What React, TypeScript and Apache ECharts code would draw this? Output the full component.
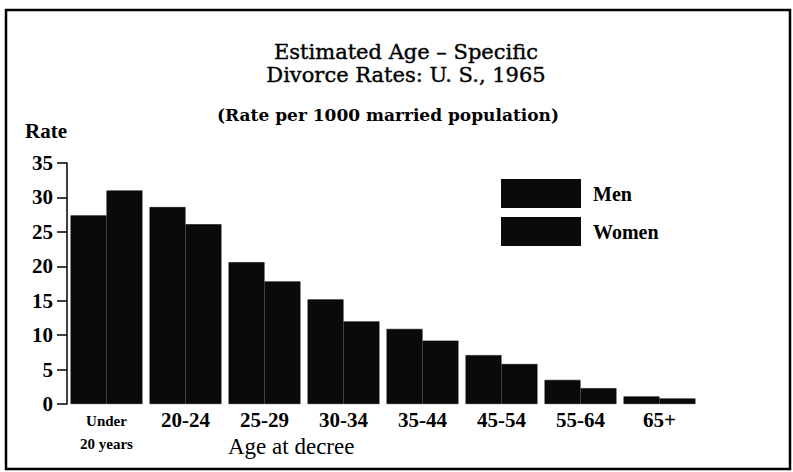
import React, { useEffect, useRef } from "react";
import * as echarts from "echarts";

const categories = ["Under\n20 years", "20-24", "25-29", "30-34", "35-44", "45-54", "55-64", "65+"];
const men = [27.4, 28.6, 20.6, 15.2, 10.9, 7.1, 3.5, 1.1];
const women = [31.0, 26.1, 17.8, 12.0, 9.2, 5.8, 2.3, 0.8];
const yTicks = [0, 5, 10, 15, 20, 25, 30, 35];

const FONT = "Liberation Serif";
const DFONT = "DejaVu Serif";
const BAR = "#0a0a0a";

export default function App() {
  const ref = useRef<HTMLDivElement>(null);
  useEffect(() => {
    if (!ref.current) return;
    const chart = echarts.init(ref.current, null, { renderer: "svg" });
    chart.setOption({
      animation: false,
      backgroundColor: "#fff",
      textStyle: { fontFamily: FONT, color: "#000" },
      title: [
        {
          text: "Estimated Age \u2013 Specific\nDivorce Rates: U. S., 1965",
          left: 406,
          top: 40,
          textAlign: "center",
          padding: 0,
          textStyle: {
            fontFamily: DFONT,
            fontSize: 21,
            fontWeight: "normal",
            lineHeight: 23,
            color: "#000",
            textBorderColor: "#000",
            textBorderWidth: 0.4,
          },
        },
        {
          text: "(Rate per 1000 married population)",
          left: 388,
          top: 106,
          textAlign: "center",
          padding: 0,
          textStyle: { fontFamily: DFONT, fontSize: 17, fontWeight: "bold", color: "#000" },
        },
      ],
      legend: {
        orient: "vertical",
        left: 501,
        top: 179,
        padding: 0,
        itemWidth: 78,
        itemHeight: 27,
        itemGap: 9,
        icon: "rect",
        data: ["Men", "Women"],
        textStyle: { fontFamily: FONT, fontSize: 20, fontWeight: "bold", color: "#000", padding: [0, 0, 0, 8] },
      },
      grid: { left: 67, right: 94, top: 163, bottom: 68 },
      xAxis: {
        type: "category",
        data: categories,
        axisLine: { show: false },
        axisTick: { show: false },
        axisLabel: {
          interval: 0,
          margin: 5,
          fontFamily: FONT,
          fontSize: 21,
          fontWeight: "bold",
          color: "#000",
          formatter: (v: string) => (v.indexOf("\n") >= 0 ? "{s|" + v.split("\n").join("}\n{s|") + "}" : v),
          rich: { s: { fontFamily: FONT, fontSize: 15, fontWeight: "bold", lineHeight: 23, color: "#000" } },
        },
      },
      yAxis: {
        type: "value",
        min: yTicks[0],
        max: yTicks[yTicks.length - 1],
        interval: 5,
        splitLine: { show: false },
        axisLine: { show: true, lineStyle: { color: "#000", width: 1.5 } },
        axisTick: { show: true, length: 10, lineStyle: { color: "#000", width: 1.5 } },
        axisLabel: { fontFamily: FONT, fontSize: 21, fontWeight: "bold", color: "#000", margin: 14 },
      },
      graphic: [
        {
          type: "rect",
          shape: { x: 6, y: 10, width: 784, height: 459 },
          style: { fill: "none", stroke: "#000", lineWidth: 2.5 },
        },
        {
          type: "text",
          left: 25,
          top: 120,
          style: { text: "Rate", font: "bold 21px 'Liberation Serif'", fill: "#000" },
        },
        {
          type: "text",
          left: 228,
          top: 435,
          style: { text: "Age at decree", font: "23px 'Liberation Serif'", fill: "#000" },
        },
      ],
      series: [
        {
          name: "Men",
          type: "bar",
          data: men,
          barGap: "0%",
          barCategoryGap: "9%",
          itemStyle: { color: BAR, borderColor: BAR, borderWidth: 0.6 },
        },
        {
          name: "Women",
          type: "bar",
          data: women,
          itemStyle: { color: BAR, borderColor: BAR, borderWidth: 0.6 },
        },
      ],
    });
    return () => chart.dispose();
  }, []);
  return <div ref={ref} style={{ width: 793, height: 472, position: "absolute", left: 0, top: 0 }} />;
}
